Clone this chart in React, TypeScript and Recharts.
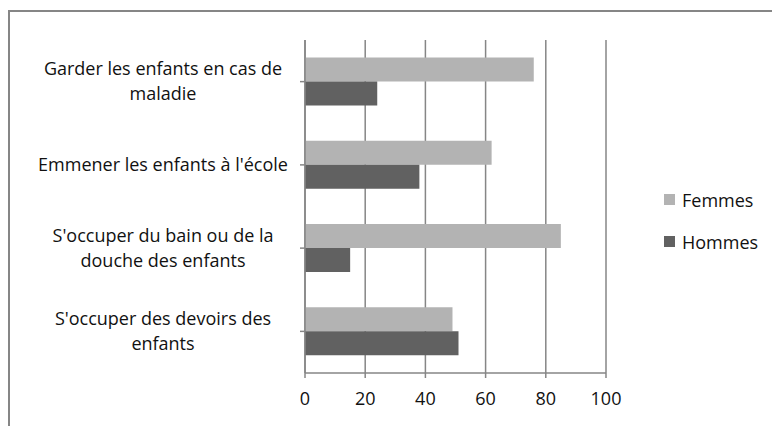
import { Bar, BarChart, CartesianGrid, XAxis, YAxis } from "recharts"

const categories = [
  "Garder les enfants en cas de maladie",
  "Emmener les enfants à l'école",
  "S'occuper du bain ou de la douche des enfants",
  "S'occuper des devoirs des enfants",
]
const categoryLines = [
  ["Garder les enfants en cas de", "maladie"],
  ["Emmener les enfants à l'école"],
  ["S'occuper du bain ou de la", "douche des enfants"],
  ["S'occuper des devoirs des", "enfants"],
]
const femmes = [76, 62, 85, 49]
const hommes = [24, 38, 15, 51]
const xTicks = [0, 20, 40, 60, 80, 100]

const data = categories.map((name, i) => ({ name, femmes: femmes[i], hommes: hommes[i] }))

const FONT = "'Open Sans', sans-serif"
const AXIS = "#868686"

function CategoryTick(props: any) {
  const { y, payload } = props
  const idx = categories.indexOf(payload.value)
  const lines = categoryLines[idx] || [payload.value]
  const lh = 25
  const start = y - ((lines.length - 1) * lh) / 2
  return (
    <text x={163} y={start} textAnchor="middle" fontFamily={FONT} fontSize={18} fill="#111">
      {lines.map((l, i) => (
        <tspan key={i} x={163} y={start + i * lh} dy="0.35em">
          {l}
        </tspan>
      ))}
    </text>
  )
}

function LegendBox() {
  const items = [
    { label: "Femmes", color: "#b3b3b3" },
    { label: "Hommes", color: "#616161" },
  ]
  return (
    <div style={{ position: "absolute", left: 664, top: 188, fontFamily: FONT, fontSize: 18, color: "#111" }}>
      {items.map((it) => (
        <div key={it.label} style={{ display: "flex", alignItems: "center", height: 23, marginBottom: 19 }}>
          <span style={{ width: 11, height: 11, background: it.color, display: "inline-block", marginRight: 7 }} />
          {it.label}
        </div>
      ))}
    </div>
  )
}

export default function App() {
  return (
    <div style={{ position: "absolute", left: 0, top: 0, width: 772, height: 426, background: "#fff" }}>
      <div
        style={{
          position: "absolute",
          left: 8,
          top: 10,
          right: 0,
          bottom: 0,
          borderTop: `2px solid ${AXIS}`,
          borderLeft: `2px solid ${AXIS}`,
        }}
      />
      <div style={{ position: "absolute", left: 0, top: 0 }}>
        <BarChart
          width={772}
          height={426}
          data={data}
          layout="vertical"
          margin={{ top: 40, right: 166, left: 0, bottom: 13 }}
          barCategoryGap="21%"
          barGap={0}
        >
          <CartesianGrid horizontal={false} stroke={AXIS} strokeWidth={1.5} />
          <XAxis
            type="number"
            domain={[0, 100]}
            ticks={xTicks}
            stroke={AXIS}
            strokeWidth={1.5}
            tickSize={5}
            height={40}
            tick={{ fontFamily: FONT, fontSize: 18, fill: "#111" }}
            tickMargin={14}
          />
          <YAxis
            type="category"
            dataKey="name"
            width={305}
            stroke={AXIS}
            strokeWidth={1.5}
            tickSize={5}
            tick={<CategoryTick />}
            interval={0}
          />
          <Bar dataKey="femmes" fill="#b3b3b3" isAnimationActive={false} />
          <Bar dataKey="hommes" fill="#616161" isAnimationActive={false} />
        </BarChart>
      </div>
      <LegendBox />
    </div>
  )
}
